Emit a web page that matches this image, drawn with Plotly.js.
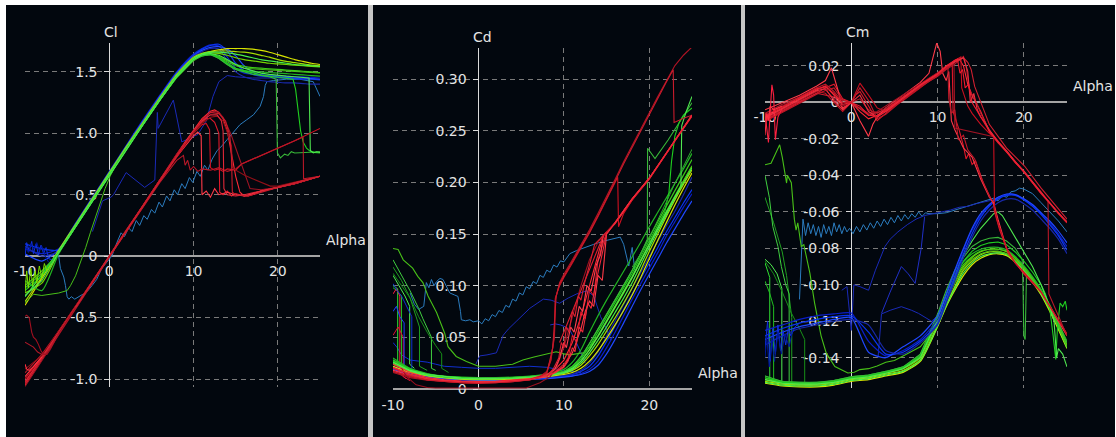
<!DOCTYPE html>
<html>
<head>
<meta charset="utf-8">
<script src="https://cdn.plot.ly/plotly-3.0.1.min.js"></script>
<style>
html,body{margin:0;padding:0;background:#ffffff;width:1116px;height:437px;overflow:hidden;}
#back{position:absolute;left:6px;top:5px;width:1109px;height:432px;background:#c6c6c6;}
.pnl{position:absolute;top:5px;height:432px;}
#p1{left:6px;width:362px;}
#p2{left:373px;width:368px;}
#p3{left:745px;width:370px;}
</style>
</head>
<body>
<div id="back"></div>
<div id="p1" class="pnl"></div>
<div id="p2" class="pnl"></div>
<div id="p3" class="pnl"></div>
<script>
// ---------------- shared ----------------
const alphaGrid = [-10,-8,-6,-4,-2,0,2,4,6,8,10,11,12,13,14,15,16,17,18,19,20,21,22,23,24,25];
const xTicks = [-10,0,10,20];
const xTickText = ['-10','0','10','20'];
const greenColors = ['#d8e400','#a6de00','#74d400','#3ccc18','#22b422','#48f048'];
const blueColors = ['#0a1ec8','#0a34f0','#2048ff','#1828a8'];

// ---------------- Cl panel ----------------
const clTicks = [-1.0,-0.5,0,0.5,1.0,1.5];
const clTickText = ['-1.0','-0.5','0','0.5','1.0','1.5'];
const clGreen = [
 [-0.40,-0.18,0.04,0.25,0.46,0.67,0.88,1.08,1.28,1.47,1.61,1.645,1.665,1.68,1.69,1.69,1.69,1.685,1.675,1.66,1.64,1.62,1.60,1.585,1.57,1.56],
 [-0.37,-0.17,0.05,0.26,0.47,0.68,0.89,1.09,1.29,1.48,1.62,1.65,1.665,1.67,1.67,1.665,1.66,1.65,1.635,1.62,1.60,1.585,1.575,1.565,1.555,1.55],
 [-0.30,-0.22,0.03,0.25,0.46,0.67,0.88,1.08,1.28,1.47,1.61,1.64,1.655,1.65,1.635,1.615,1.60,1.59,1.58,1.57,1.565,1.56,1.555,1.55,1.545,1.54],
 [-0.24,-0.12,0.03,0.24,0.45,0.66,0.87,1.07,1.27,1.46,1.60,1.635,1.645,1.625,1.59,1.56,1.545,1.535,1.53,1.525,1.52,1.515,1.51,1.505,1.50,1.495],
 [-0.20,-0.28,0.02,0.24,0.45,0.66,0.87,1.07,1.27,1.46,1.60,1.63,1.64,1.61,1.56,1.52,1.51,1.50,1.50,1.495,1.49,1.485,1.48,1.475,1.47,1.465],
 [-0.33,-0.15,0.04,0.25,0.46,0.67,0.88,1.08,1.28,1.47,1.61,1.645,1.66,1.66,1.655,1.645,1.63,1.615,1.60,1.59,1.58,1.57,1.56,1.555,1.55,1.545]
];
const clBlue = [
 [0.06,0.02,0.06,0.27,0.48,0.69,0.90,1.11,1.31,1.50,1.645,1.69,1.72,1.71,1.62,1.53,1.49,1.48,1.475,1.47,1.47,1.465,1.46,1.46,1.455,1.45],
 [0.10,0.06,0.05,0.26,0.47,0.68,0.89,1.10,1.30,1.49,1.635,1.685,1.715,1.725,1.67,1.57,1.51,1.48,1.465,1.46,1.455,1.45,1.445,1.44,1.44,1.435],
 [0.02,-0.04,0.05,0.26,0.47,0.68,0.89,1.10,1.30,1.49,1.63,1.675,1.70,1.705,1.685,1.63,1.55,1.50,1.475,1.465,1.46,1.455,1.45,1.45,1.445,1.44],
 [0.08,0.00,0.04,0.25,0.46,0.67,0.88,1.09,1.29,1.48,1.625,1.665,1.69,1.685,1.59,1.50,1.46,1.44,1.43,1.42,1.415,1.41,1.41,1.405,1.40,1.40]
];
const clGreenNeg = [[-10,-0.38],[-9,-0.31],[-8,-0.32],[-7,-0.31],[-6,-0.30],[-5,-0.28],[-4.6,-0.24],[-4,-0.16],[-3.4,-0.05],[-2.8,0.07],[-2.25,0.19],[-1.6,0.32],[-1.07,0.43],[-0.5,0.55],[0.1,0.65],[1,0.77],[2,0.87],[4,1.07],[6,1.27],[8,1.45],[10,1.59],[11,1.63],[12,1.64],[13,1.62],[14,1.58],[15,1.55],[16,1.53],[18,1.52],[20,1.51],[22,1.50],[25,1.49]];
const clGreenDrop20 = [[-10,-0.26],[-8,-0.14],[-6,0.03],[-4,0.24],[-2,0.45],[0,0.66],[2,0.87],[4,1.07],[6,1.27],[8,1.46],[10,1.60],[11,1.63],[12,1.64],[13,1.61],[14,1.56],[15,1.52],[16,1.50],[17,1.48],[18,1.47],[19,1.46],[19.8,1.44],[19.95,0.84],[20.3,0.80],[20.8,0.83],[21.2,0.82],[21.6,0.85],[22,0.84],[23,0.845],[24,0.85],[25,0.85]];
const clGreenDrop23 = [[-10,-0.28],[-8,-0.16],[-6,0.03],[-4,0.24],[-2,0.45],[0,0.66],[2,0.87],[4,1.07],[6,1.27],[8,1.46],[10,1.60],[11,1.635],[12,1.645],[13,1.62],[14,1.57],[15,1.53],[16,1.51],[17,1.49],[18,1.475],[19,1.465],[20,1.455],[21,1.45],[21.8,1.44],[22.1,1.36],[22.4,1.16],[22.7,1.02],[23.0,0.93],[23.4,0.88],[23.8,0.855],[24.3,0.845],[25,0.84]];
const clGreenDrop24 = [[-10,-0.32],[-8,-0.20],[-6,0.03],[-4,0.24],[-2,0.45],[0,0.66],[2,0.87],[4,1.07],[6,1.27],[8,1.46],[10,1.60],[11,1.64],[12,1.65],[13,1.635],[14,1.60],[15,1.56],[16,1.53],[17,1.51],[18,1.49],[19,1.48],[20,1.47],[21,1.465],[22,1.46],[23,1.455],[23.7,1.45],[23.85,0.86],[24.2,0.84],[24.6,0.85],[25,0.845]];
const clGreenNoise = [[-10,-0.30],[-9.8,-0.12],[-9.6,-0.26],[-9.3,-0.10],[-9.1,-0.24],[-8.8,-0.12],[-8.6,-0.22],[-8.3,-0.08],[-8.0,-0.18],[-7.7,-0.06],[-7.4,-0.12],[-7.0,-0.07]];
const clBlueNoise1 = [[-10,0.00],[-9.8,0.11],[-9.5,0.04],[-9.2,0.12],[-9.0,0.02],[-8.7,0.10],[-8.4,0.01],[-8.1,0.09],[-7.8,0.02],[-7.5,0.07],[-7.2,-0.02],[-6.8,-0.03],[-6.3,0.01]];
const clBlueNoise2 = [[-10,0.08],[-9.6,0.03],[-9.3,0.10],[-9,0.06],[-8.6,0.11],[-8.3,0.04],[-8,0.08],[-7.6,0.0],[-7.2,-0.05]];
const clLightBlue = [[-6.2,0.04],[-6.0,0.0],[-5.8,-0.10],[-5.4,-0.17],[-5.2,-0.24],[-5.0,-0.33],[-4.8,-0.35],[-4.5,-0.33],[-4.1,-0.35],[-3.45,-0.32],[-2.65,-0.29],[-2.05,-0.24],[-1.5,-0.19],[-0.9,-0.10],[-0.3,-0.05],[0.3,0.0],[0.9,0.11],[1.4,0.19],[1.8,0.16],[2.3,0.23],[2.7,0.20],[3.2,0.29],[3.6,0.25],[4.1,0.33],[4.5,0.30],[5.0,0.38],[5.4,0.35],[5.9,0.44],[6.3,0.40],[6.8,0.49],[7.2,0.45],[7.7,0.54],[8.1,0.50],[8.6,0.59],[9.0,0.55],[9.5,0.64],[9.9,0.60],[10.4,0.69],[10.8,0.65],[11.3,0.74],[11.7,0.70],[12.2,0.79],[12.8,0.86],[13.4,0.90],[14,0.95],[14.7,1.01],[15.5,1.07],[16.3,1.11],[17.1,1.15],[17.9,1.22],[18.3,1.30],[18.5,1.39],[18.7,1.42],[19.5,1.43],[21,1.44],[22.6,1.44],[24.2,1.42],[25,1.30]];
const clDarkBlue = [[-2.0,0.20],[-1.5,0.30],[-0.8,0.45],[0.2,0.48],[0.5,0.50],[2.0,0.68],[4.2,0.56],[5.4,0.62],[5.6,1.05],[5.7,1.17],[5.8,1.04],[7.6,1.27],[8.6,0.93],[9.6,0.96],[10.5,0.99],[11.5,1.10],[12.3,1.30],[13.0,1.42],[14.0,1.47],[15,1.46],[17,1.45],[20,1.45],[25,1.44]];
const clRed = [
 [[-10,-1.05],[-8,-0.84],[-6,-0.63],[-4,-0.42],[-2,-0.21],[0,0],[2,0.21],[4,0.41],[6,0.62],[8,0.83],[9,0.93],[10,1.03],[11,1.12],[12,1.18],[12.5,1.19],[13,1.17],[13.5,1.12],[14,1.02],[14.5,0.85],[15,0.65],[15.5,0.52],[16,0.49],[16.5,0.49],[18,0.53],[20,0.56],[22,0.59],[25,0.65]],
 [[-10,-1.02],[-8,-0.83],[-6,-0.62],[-4,-0.42],[-2,-0.21],[0,0],[2,0.20],[4,0.41],[6,0.61],[8,0.82],[9,0.92],[10,1.01],[11,1.09],[11.5,1.12],[12,1.12],[12.5,1.09],[13,1.0],[13.1,0.52],[13.5,0.50],[14,0.53],[14.5,0.49],[15,0.51],[16,0.49],[17,0.50],[18,0.53],[20,0.56],[22,0.59],[25,0.65]],
 [[-10,-0.98],[-8,-0.82],[-6,-0.62],[-4,-0.41],[-2,-0.20],[0,0.01],[2,0.21],[4,0.41],[6,0.62],[8,0.81],[9,0.90],[10,0.98],[10.5,1.01],[10.9,0.98],[11.0,0.50],[11.5,0.53],[12,0.48],[12.5,0.55],[13,0.50],[14,0.52],[15,0.50],[16,0.49],[17,0.51],[18,0.53],[20,0.56],[22,0.59],[25,0.65]],
 [[-10,-1.0],[-8,-0.82],[-6,-0.61],[-4,-0.41],[-2,-0.20],[0,0],[2,0.20],[4,0.40],[6,0.61],[8,0.81],[9,0.91],[10,1.0],[11,1.07],[11.5,1.08],[11.9,1.03],[12.0,0.72],[12.5,0.70],[13,0.71],[13.5,0.69],[14,0.71],[15,0.70],[15.7,0.75],[16.7,0.78],[18,0.82],[20,0.88],[22,0.94],[25,1.04]],
 [[-10,-1.06],[-8,-0.85],[-6,-0.64],[-4,-0.43],[-2,-0.22],[0,-0.01],[2,0.20],[4,0.41],[6,0.62],[8,0.83],[10,1.01],[11,1.10],[12,1.17],[12.5,1.18],[13,1.17],[13.5,1.13],[14,1.06],[14.5,0.98],[15,0.88],[15.5,0.78],[16,0.68],[16.7,0.55],[18,0.54],[20,0.56],[22,0.59],[25,0.65]],
 [[-10,-0.95],[-8,-0.80],[-6,-0.61],[-4,-0.41],[-2,-0.21],[0,0],[2,0.20],[4,0.40],[6,0.60],[8,0.78],[8.8,0.82],[9.0,0.74],[9.3,0.78],[9.6,0.70],[10,0.73],[10.5,0.69],[11,0.71],[12,0.70],[13,0.72],[14,0.69],[15,0.71],[15.7,0.75],[16.7,0.78],[18,0.82],[20,0.88],[22,0.94],[23,0.97],[23.05,0.63],[24,0.64],[25,0.65]],
 [[-10,-0.92],[-8,-0.81],[-6,-0.61],[-4,-0.41],[-2,-0.20],[0,0],[2,0.21],[4,0.41],[6,0.61],[8,0.82],[10,1.0],[11,1.08],[12,1.13],[12.8,1.14],[13.5,1.10],[14,1.01],[14.5,0.90],[14.6,0.72],[15,0.70],[16,0.66],[17,0.63],[18,0.60],[19.1,0.57],[20,0.57],[22,0.60],[25,0.65]],
 [[-10,-1.03],[-8,-0.83],[-6,-0.62],[-4,-0.415],[-2,-0.205],[0,0],[2,0.205],[4,0.41],[6,0.615],[8,0.82],[10,1.02],[11,1.10],[12,1.15],[12.8,1.15],[13.3,1.10],[13.5,1.02],[13.6,0.55],[14,0.50],[15,0.49],[16,0.50],[18,0.53],[20,0.56],[25,0.65]],
 [[-10,-1.04],[-8,-0.84],[-6,-0.63],[-4,-0.42],[-2,-0.21],[0,0],[2,0.21],[4,0.41],[6,0.62],[8,0.82],[10,1.02],[11,1.11],[12,1.17],[13,1.16],[13.8,1.10],[14.3,0.98],[14.5,0.80],[14.6,0.52],[15,0.50],[16.5,0.49],[20,0.56],[25,0.65]],
 [[-10,-0.49],[-9.8,-0.48],[-9.5,-0.50],[-9.2,-0.62],[-9,-0.66],[-8.7,-0.68],[-8.4,-0.72],[-8.1,-0.77],[-7.8,-0.80],[-7.4,-0.80],[-7,-0.76],[-6,-0.63],[-4,-0.42]],
 [[-10,-0.70],[-9.5,-0.72],[-9,-0.74],[-8.5,-0.78],[-8,-0.80],[-7.5,-0.79],[-7,-0.75],[-6,-0.63]],
 [[-10,-0.88],[-9.8,-0.92],[-9.5,-0.93],[-9,-0.90],[-8,-0.82]]
];
const redColors = ['#ff2a35','#e0182a','#ff3a48','#d01020','#a01424','#b81828','#901018','#e02838','#c81c2c','#a01020','#b01828','#ff3040'];

// ---------------- Cd panel ----------------
const cdTicks = [0,0.05,0.10,0.15,0.20,0.25,0.30];
const cdTickText = ['0','0.05','0.10','0.15','0.20','0.25','0.30'];
const cdGreen = [
 [0.022,0.016,0.013,0.011,0.0095,0.009,0.009,0.0095,0.0105,0.012,0.014,0.016,0.020,0.027,0.037,0.049,0.062,0.076,0.091,0.108,0.126,0.144,0.161,0.178,0.194,0.209],
 [0.024,0.017,0.013,0.011,0.010,0.0095,0.0095,0.010,0.011,0.0125,0.015,0.018,0.023,0.032,0.043,0.056,0.069,0.083,0.098,0.115,0.133,0.150,0.167,0.183,0.198,0.212],
 [0.026,0.018,0.014,0.012,0.0105,0.010,0.010,0.0105,0.0115,0.013,0.016,0.020,0.027,0.038,0.051,0.065,0.079,0.093,0.108,0.124,0.140,0.156,0.171,0.186,0.201,0.215],
 [0.028,0.019,0.0145,0.012,0.011,0.0105,0.0105,0.011,0.012,0.014,0.017,0.022,0.031,0.044,0.058,0.072,0.086,0.100,0.115,0.131,0.147,0.162,0.177,0.192,0.207,0.222],
 [0.030,0.020,0.015,0.0125,0.0115,0.011,0.011,0.0115,0.0125,0.0145,0.019,0.026,0.038,0.055,0.071,0.086,0.100,0.114,0.128,0.142,0.157,0.171,0.185,0.199,0.213,0.228],
 [0.025,0.0175,0.0135,0.0115,0.010,0.0098,0.0098,0.0103,0.0113,0.013,0.0155,0.019,0.025,0.035,0.047,0.060,0.074,0.088,0.103,0.120,0.137,0.153,0.169,0.185,0.200,0.214]
];
const cdBlue = [
 [0.020,0.015,0.012,0.010,0.009,0.0085,0.0085,0.009,0.0095,0.0105,0.012,0.013,0.015,0.019,0.027,0.040,0.055,0.071,0.087,0.102,0.117,0.132,0.148,0.162,0.176,0.189],
 [0.022,0.016,0.0125,0.0105,0.0095,0.009,0.009,0.0095,0.010,0.011,0.0125,0.014,0.017,0.022,0.032,0.046,0.061,0.077,0.092,0.107,0.122,0.137,0.152,0.166,0.180,0.193],
 [0.019,0.014,0.0115,0.0098,0.0088,0.0083,0.0083,0.0088,0.0093,0.010,0.0115,0.0125,0.014,0.017,0.023,0.034,0.048,0.064,0.080,0.096,0.111,0.126,0.141,0.155,0.169,0.182],
 [0.024,0.017,0.013,0.011,0.010,0.0095,0.0095,0.010,0.0105,0.0115,0.013,0.0145,0.018,0.025,0.036,0.051,0.066,0.082,0.098,0.113,0.128,0.143,0.158,0.172,0.188,0.205]
];
const cdGreenNeg = [[-10,0.136],[-9.4,0.135],[-8.8,0.125],[-7.7,0.117],[-7.1,0.109],[-6.5,0.103],[-5.9,0.090],[-4.9,0.074],[-3.95,0.054],[-3.56,0.041],[-2.6,0.0315],[-1.4,0.0267],[0,0.022],[2,0.022],[4,0.024],[5.2,0.028],[6.5,0.031],[8.4,0.035],[9.1,0.036],[10,0.034],[10.7,0.033],[12.3,0.035],[13,0.040],[14,0.052],[15,0.066],[16,0.080],[17,0.094],[18,0.109],[19,0.125],[20,0.141],[21,0.157],[22,0.172],[23,0.187],[24,0.202],[25,0.216]];
const cdGreenDrop20 = [[-10,0.028],[-8,0.019],[-6,0.0145],[-4,0.012],[-2,0.011],[0,0.0105],[2,0.0105],[4,0.011],[6,0.012],[8,0.014],[10,0.017],[11,0.022],[12,0.031],[13,0.044],[14,0.058],[15,0.072],[16,0.086],[17,0.100],[18,0.115],[19,0.131],[19.77,0.145],[19.8,0.233],[20.67,0.223],[22.2,0.241],[23.2,0.254],[24.4,0.270],[25,0.277]];
const cdGreenDrop23 = [[-10,0.027],[-8,0.019],[-6,0.014],[-4,0.012],[-2,0.011],[0,0.0102],[2,0.0102],[4,0.0108],[6,0.0118],[8,0.0135],[10,0.0165],[11,0.021],[12,0.029],[13,0.041],[14,0.055],[15,0.069],[16,0.083],[17,0.097],[18,0.112],[19,0.128],[20,0.144],[21,0.159],[21.8,0.171],[22.3,0.19],[22.6,0.22],[23.0,0.245],[23.5,0.258],[24,0.265],[25,0.272]];
const cdGreenDrop24 = [[-10,0.026],[-8,0.018],[-6,0.014],[-4,0.012],[-2,0.0105],[0,0.010],[2,0.010],[4,0.0105],[6,0.0115],[8,0.013],[10,0.016],[11,0.020],[12,0.027],[13,0.038],[14,0.051],[15,0.065],[16,0.079],[17,0.093],[18,0.108],[19,0.124],[20,0.140],[21,0.156],[22,0.171],[23,0.186],[23.7,0.196],[23.8,0.255],[24.3,0.268],[25,0.283]];
const cdGreenHigh = [[18,0.118],[19,0.131],[20,0.146],[21,0.163],[22,0.181],[23,0.199],[24,0.216],[25,0.232]];
const cdSpikes = [
 [[-10,0.100],[-9.7,0.098],[-9.45,0.097],[-9.45,0.025],[-9,0.022]],
 [[-10,0.098],[-9.5,0.095],[-9.0,0.090],[-9.0,0.024],[-8.5,0.021]],
 [[-10,0.110],[-9.3,0.100],[-8.6,0.090],[-8.05,0.080],[-8.05,0.024],[-7.5,0.020]],
 [[-10,0.118],[-9,0.105],[-8,0.088],[-7.5,0.075],[-6.9,0.060],[-6.9,0.022],[-6,0.018]],
 [[-10,0.125],[-9,0.110],[-8,0.095],[-7,0.078],[-6.5,0.068],[-5.5,0.050],[-5.5,0.020],[-5,0.018]],
 [[-10,0.112],[-9,0.100],[-8,0.088],[-7,0.070],[-6,0.055],[-5,0.042],[-4.3,0.034],[-4.3,0.020],[-3.5,0.016]],
 [[-10,0.092],[-9.6,0.097],[-9.2,0.090],[-9.2,0.015],[-8.5,0.010]],
 [[-10,0.052],[-9.4,0.060],[-8.8,0.050],[-8.8,0.012],[-8,0.008]],
 [[-10,0.102],[-9.5,0.095],[-9,0.090],[-8.4,0.080],[-7.8,0.070],[-7.8,0.018],[-7,0.015]],
 [[-10,0.075],[-9.6,0.08],[-9.2,0.07],[-8.7,0.064],[-8.7,0.02],[-8,0.017]]
];
const cdSpikeColors = ['#30e030','#20c020','#50f050','#20a020','#40d040','#189018','#ff2040','#e01030','#1030d0','#2040ff'];
const cdRed = [
 [[-10,0.024],[-8,0.016],[-6,0.011],[-4,0.009],[-2,0.0078],[0,0.0072],[2,0.0075],[4,0.0085],[6,0.010],[8,0.014],[9,0.019],[10,0.028],[11,0.045],[12,0.07],[13,0.10],[14,0.132],[14.6,0.148],[16,0.16],[18,0.183],[20,0.203],[22,0.228],[24,0.252],[25,0.265]],
 [[-10,0.020],[-8,0.014],[-6,0.010],[-4,0.008],[-2,0.007],[0,0.0065],[2,0.007],[4,0.008],[6,0.0095],[8,0.013],[9,0.017],[10,0.024],[10.5,0.030],[11,0.052],[11.5,0.045],[12,0.075],[12.5,0.068],[13,0.096],[13.5,0.09],[14,0.125],[15,0.152],[16,0.161],[18,0.184],[20,0.204],[22,0.228],[25,0.264]],
 [[-10,0.018],[-8,0.013],[-6,0.0095],[-4,0.0078],[-2,0.0068],[0,0.0062],[2,0.0066],[4,0.0075],[6,0.009],[8,0.012],[9,0.016],[10,0.022],[11,0.035],[12,0.058],[12.5,0.075],[13,0.085],[13.5,0.08],[14,0.11],[14.5,0.105],[15,0.15],[16,0.161],[18,0.184],[20,0.204],[22,0.228],[25,0.265]],
 [[-10,0.017],[-8,0.012],[-6,0.009],[-4,0.0072],[-2,0.0062],[0,0.0058],[2,0.0062],[4,0.0072],[6,0.009],[7,0.011],[8,0.016],[8.5,0.028],[8.9,0.054],[9.0,0.088],[9.5,0.100],[10,0.108],[11,0.122],[12,0.136],[13,0.151],[14,0.167],[15,0.183],[16,0.200],[16.3,0.205],[16.4,0.157],[17,0.170],[18,0.183],[20,0.204],[22,0.228],[25,0.265]],
 [[-10,0.016],[-8,0.011],[-6,0.0085],[-4,0.007],[-2,0.006],[0,0.0055],[2,0.006],[4,0.007],[6,0.0088],[7,0.011],[8,0.017],[8.5,0.03],[8.9,0.05],[9.0,0.086],[9.5,0.103],[10,0.111],[11,0.125],[12,0.139],[13,0.154],[14,0.170],[15,0.186],[16,0.203],[17,0.220],[18,0.236],[19,0.252],[20,0.267],[21,0.283],[22,0.298],[23,0.313],[24,0.323],[25,0.331]],
 [[-10,0.017],[-6,0.0088],[-2,0.0061],[0,0.0057],[2,0.0061],[4,0.0071],[6,0.0089],[8,0.015],[8.7,0.04],[9.1,0.09],[9.5,0.102],[10,0.109],[11,0.123],[12,0.137],[13,0.152],[14,0.168],[15,0.184],[16,0.201],[17,0.218],[18,0.234],[19,0.25],[20,0.266],[21,0.282],[22,0.297],[22.8,0.309],[22.9,0.258],[23.5,0.26],[24,0.262],[25,0.265]],
 [[-9.0,0.020],[-8.4,0.012],[-7.3,0.004],[-6,0.0015],[-5,0.001],[-3,0.001],[0,0.001],[3,0.001],[5.6,0.001],[7.2,0.006],[8.4,0.012],[9.1,0.02],[10,0.04],[11,0.07],[12,0.10],[13,0.125],[14,0.142],[15,0.152],[16,0.161]],
 [[8,0.013],[9,0.02],[9.5,0.03],[10,0.045],[10.3,0.04],[10.8,0.06],[11.2,0.055],[11.8,0.08],[12.2,0.075],[12.7,0.10],[13.2,0.095],[13.8,0.12],[14.3,0.13],[14.6,0.148]],
 [[9.5,0.045],[10,0.055],[11,0.075],[12,0.095],[13,0.115],[14,0.135],[14.6,0.148]],
 [[-10,0.021],[-8,0.0145],[-6,0.0102],[-4,0.0082],[-2,0.0072],[0,0.0066],[2,0.0069],[4,0.0078],[6,0.0092],[8,0.0125],[9,0.016],[10,0.021],[10.5,0.027],[11,0.04],[11.3,0.036],[11.8,0.06],[12.2,0.055],[12.8,0.083],[13.2,0.078],[13.8,0.105],[14.4,0.128],[15,0.15],[16,0.161],[18,0.184],[20,0.204],[22,0.228],[25,0.265]],
 [[8,0.012],[8.8,0.02],[9.4,0.03],[9.7,0.045],[10,0.04],[10.3,0.06],[10.6,0.055],[11,0.075],[11.3,0.07],[11.7,0.09],[12,0.086],[12.5,0.105],[13,0.12],[13.6,0.14],[14.2,0.145],[15,0.152]]
];
const cdRedColors = ['#ff2a35','#e0182a','#ff3a48','#d01020','#b01424','#c81c2c','#9a1020','#ff4050','#e02030','#f02a3a','#d82030'];
const cdLightBlue = [[-8,0.093],[-7.5,0.082],[-7,0.077],[-6.4,0.080],[-6.1,0.103],[-5.8,0.098],[-5.5,0.106],[-5.2,0.100],[-4.9,0.104],[-4.5,0.107],[-4.15,0.106],[-3.7,0.099],[-3.36,0.093],[-2.8,0.091],[-2.4,0.0896],[-2.1,0.075],[-2.0,0.067],[-1.5,0.066],[-1,0.067],[-0.6,0.065],[0,0.066],[0.4,0.063],[0.8,0.068],[1.2,0.066],[1.6,0.072],[2.0,0.070],[2.4,0.076],[2.8,0.074],[3.2,0.081],[3.6,0.079],[4.0,0.087],[4.4,0.085],[4.8,0.093],[5.2,0.091],[5.6,0.099],[6.0,0.097],[6.4,0.104],[6.8,0.102],[7.2,0.110],[7.6,0.108],[8.0,0.115],[8.4,0.113],[8.8,0.120],[9.2,0.118],[9.6,0.124],[10,0.123],[10.7,0.131],[11.5,0.134],[12.7,0.138],[13.5,0.140],[14.6,0.143],[15.5,0.145],[16.6,0.147],[17.0,0.140],[17.3,0.130],[17.6,0.119],[18,0.137],[18.3,0.115]];
const cdDarkBlue = [[-0.3,0.024],[0.15,0.032],[1,0.033],[2.1,0.035],[2.9,0.052],[3.5,0.058],[4.5,0.066],[6,0.078],[7.6,0.087],[8.5,0.086],[9.5,0.083],[10.5,0.088],[11.5,0.092],[12.7,0.095],[13.5,0.09],[14.3,0.07],[15,0.058],[15.5,0.047]];
const cdDarkBlueArc = [[8.4,0.062],[9,0.063],[9.6,0.062],[10.2,0.06],[10.7,0.057],[11.3,0.048],[12,0.035],[12.5,0.025]];
const cdBlueLow = [[-10,0.045],[-9.5,0.04],[-9,0.033],[-8,0.028],[-7,0.027],[-6,0.026],[-5,0.024],[-4,0.022],[-2,0.021],[0,0.02],[2,0.02],[4,0.021],[6,0.022],[8,0.021],[10,0.018],[12,0.016]];

// ---------------- Cm panel ----------------
const cmTicks = [-0.14,-0.12,-0.10,-0.08,-0.06,-0.04,-0.02,0,0.02];
const cmTickText = ['-0.14','-0.12','-0.10','-0.08','-0.06','-0.04','-0.02','0','0.02'];
const cmGreen = [
 [-0.154,-0.1555,-0.156,-0.156,-0.155,-0.153,-0.152,-0.150,-0.148,-0.142,-0.123,-0.112,-0.103,-0.095,-0.089,-0.0855,-0.0835,-0.083,-0.084,-0.0875,-0.0925,-0.0985,-0.1055,-0.1145,-0.1245,-0.135],
 [-0.153,-0.1545,-0.155,-0.155,-0.154,-0.152,-0.151,-0.149,-0.147,-0.141,-0.122,-0.111,-0.101,-0.092,-0.087,-0.0835,-0.082,-0.082,-0.083,-0.0865,-0.091,-0.097,-0.104,-0.113,-0.123,-0.134],
 [-0.152,-0.154,-0.1545,-0.1545,-0.1535,-0.1515,-0.1505,-0.1485,-0.146,-0.140,-0.120,-0.108,-0.098,-0.090,-0.085,-0.0818,-0.0805,-0.0805,-0.0818,-0.0855,-0.0905,-0.0965,-0.1035,-0.1125,-0.1225,-0.133],
 [-0.151,-0.1535,-0.154,-0.154,-0.153,-0.151,-0.150,-0.148,-0.1455,-0.139,-0.119,-0.107,-0.097,-0.089,-0.0845,-0.0815,-0.0805,-0.0805,-0.0815,-0.085,-0.090,-0.096,-0.103,-0.1115,-0.1215,-0.1315],
 [-0.150,-0.153,-0.1535,-0.1535,-0.1525,-0.1505,-0.1495,-0.1475,-0.145,-0.138,-0.1175,-0.1055,-0.0955,-0.0875,-0.083,-0.0805,-0.0795,-0.0795,-0.0808,-0.0845,-0.0895,-0.0955,-0.1025,-0.111,-0.121,-0.131],
 [-0.1535,-0.155,-0.1555,-0.1555,-0.1545,-0.1525,-0.1515,-0.1495,-0.1475,-0.1415,-0.1225,-0.1115,-0.102,-0.0935,-0.088,-0.0845,-0.083,-0.0825,-0.0835,-0.087,-0.092,-0.0975,-0.105,-0.1135,-0.1235,-0.1345]
];
const cmBlue = [
 [-0.125,-0.122,-0.119,-0.117,-0.116,-0.1155,-0.131,-0.139,-0.136,-0.130,-0.119,-0.107,-0.094,-0.081,-0.070,-0.062,-0.0565,-0.0525,-0.0505,-0.0505,-0.053,-0.0565,-0.061,-0.066,-0.072,-0.079],
 [-0.128,-0.124,-0.121,-0.119,-0.1175,-0.117,-0.126,-0.138,-0.137,-0.131,-0.121,-0.109,-0.096,-0.083,-0.072,-0.063,-0.057,-0.053,-0.051,-0.051,-0.0535,-0.057,-0.0615,-0.067,-0.073,-0.081],
 [-0.130,-0.126,-0.123,-0.121,-0.119,-0.118,-0.137,-0.140,-0.134,-0.128,-0.117,-0.105,-0.092,-0.080,-0.069,-0.061,-0.056,-0.052,-0.0502,-0.0505,-0.0528,-0.056,-0.0605,-0.065,-0.0705,-0.077],
 [-0.133,-0.128,-0.124,-0.122,-0.120,-0.119,-0.122,-0.136,-0.138,-0.132,-0.122,-0.110,-0.098,-0.085,-0.074,-0.065,-0.059,-0.055,-0.053,-0.053,-0.0555,-0.059,-0.064,-0.069,-0.075,-0.083]
];
const cmGreenNeg = [[-10.05,-0.0342],[-9.3,-0.0333],[-8.3,-0.0232],[-8.0,-0.030],[-7.5,-0.0442],[-7.4,-0.040],[-6.95,-0.044],[-6.6,-0.064],[-6.4,-0.070],[-6.2,-0.066],[-5.8,-0.079],[-5.5,-0.078],[-4.8,-0.0936],[-4.25,-0.110],[-3.5,-0.128],[-2.9,-0.1375],[-1.9,-0.1448],[-0.4,-0.1484],[0.35,-0.148],[1,-0.1465],[2,-0.146],[3,-0.1445],[4,-0.1425],[5,-0.1415],[6,-0.139],[7,-0.1365],[8,-0.134],[9,-0.128],[10,-0.12],[11,-0.109],[12,-0.099],[13,-0.091],[14,-0.086],[15,-0.083],[16,-0.0815],[17,-0.0815],[18,-0.083],[19,-0.0865],[20,-0.091],[21,-0.097],[22,-0.104],[23,-0.113],[24,-0.123],[25,-0.134]];
const cmGreenDrop20 = [[-10,-0.150],[-8,-0.153],[-6,-0.1535],[-4,-0.1535],[-2,-0.1525],[0,-0.1505],[2,-0.1495],[4,-0.1475],[6,-0.145],[8,-0.138],[10,-0.116],[11,-0.103],[12,-0.092],[13,-0.085],[14,-0.079],[15,-0.076],[16,-0.0745],[17,-0.074],[18,-0.076],[19,-0.080],[19.8,-0.086],[19.9,-0.10],[20.0,-0.128],[20.15,-0.130],[20.3,-0.095],[21,-0.098],[22,-0.104],[23,-0.112],[24,-0.121],[25,-0.132]];
const cmGreenDrop23 = [[-10,-0.151],[-8,-0.1535],[-6,-0.154],[-4,-0.154],[-2,-0.153],[0,-0.151],[2,-0.150],[4,-0.148],[6,-0.1455],[8,-0.139],[10,-0.118],[11,-0.106],[12,-0.095],[13,-0.087],[14,-0.0815],[15,-0.0785],[16,-0.077],[17,-0.0765],[18,-0.078],[19,-0.082],[20,-0.087],[21,-0.093],[22,-0.100],[22.5,-0.105],[23.0,-0.113],[23.4,-0.128],[23.7,-0.141],[23.9,-0.123],[24.2,-0.110],[24.5,-0.112],[24.8,-0.109],[25,-0.114]];
const cmGreenDrop24 = [[-10,-0.152],[-8,-0.154],[-6,-0.1545],[-4,-0.1545],[-2,-0.1535],[0,-0.1515],[2,-0.1505],[4,-0.1485],[6,-0.146],[8,-0.140],[10,-0.119],[11,-0.106],[12,-0.094],[13,-0.084],[14,-0.076],[15,-0.069],[16,-0.064],[16.5,-0.061],[17,-0.060],[17.5,-0.062],[18,-0.066],[19,-0.074],[20,-0.082],[21,-0.090],[22,-0.100],[23,-0.112],[23.5,-0.120],[23.8,-0.140],[24,-0.135],[24.5,-0.138],[25,-0.145]];
const cmSpikes = [
 [[-10,-0.088],[-9.7,-0.092],[-9.45,-0.096],[-9.45,-0.152],[-9,-0.153]],
 [[-10,-0.098],[-9.5,-0.104],[-9.0,-0.112],[-9.0,-0.153],[-8.5,-0.154]],
 [[-10,-0.086],[-9.3,-0.089],[-8.6,-0.094],[-8.05,-0.102],[-8.05,-0.153],[-7.5,-0.154]],
 [[-10,-0.052],[-9,-0.066],[-8,-0.082],[-7.5,-0.095],[-6.9,-0.118],[-6.9,-0.154],[-6,-0.155]],
 [[-10,-0.040],[-9.5,-0.052],[-9.1,-0.068],[-8.5,-0.079],[-8.1,-0.090],[-7.6,-0.100],[-7.2,-0.105],[-7.2,-0.154],[-6.5,-0.155]],
 [[-10,-0.087],[-9,-0.094],[-8,-0.104],[-7,-0.115],[-6,-0.124],[-5.4,-0.130],[-5.4,-0.155],[-4.5,-0.155]]
];
const cmSpikeColors = ['#30e030','#20c020','#50f050','#20a020','#40d040','#189018'];
const cmBlueNoise1 = [[-10,-0.135],[-9.7,-0.120],[-9.4,-0.142],[-9.1,-0.124],[-8.8,-0.138],[-8.5,-0.122],[-8.2,-0.136],[-7.9,-0.125],[-7.6,-0.133],[-7.3,-0.124],[-7,-0.128],[-6.5,-0.123],[-6,-0.121]];
const cmBlueNoise2 = [[-10,-0.140],[-9.8,-0.128],[-9.5,-0.145],[-9.2,-0.130],[-8.9,-0.142],[-8.5,-0.126],[-8.1,-0.138],[-7.7,-0.127],[-7.2,-0.134],[-6.8,-0.125]];
const cmLightBlue = [[-6.0,-0.108],[-5.9,-0.095],[-5.8,-0.085],[-5.7,-0.075],[-5.6,-0.064],[-5.3,-0.073],[-5.0,-0.066],[-4.7,-0.072],[-4.4,-0.067],[-4.1,-0.073],[-3.8,-0.068],[-3.5,-0.074],[-3.2,-0.067],[-2.9,-0.072],[-2.6,-0.068],[-2.3,-0.073],[-2.0,-0.066],[-1.7,-0.071],[-1.4,-0.067],[-1.1,-0.072],[-0.8,-0.068],[-0.5,-0.071],[-0.2,-0.069],[0.2,-0.072],[0.6,-0.068],[1,-0.071],[1.4,-0.067],[1.8,-0.070],[2.2,-0.066],[2.6,-0.069],[3,-0.065],[3.4,-0.068],[3.8,-0.064],[4.2,-0.067],[4.6,-0.063],[5,-0.066],[5.4,-0.062],[5.8,-0.065],[6.2,-0.0615],[6.6,-0.064],[7,-0.061],[7.4,-0.063],[7.8,-0.060],[8.2,-0.0625],[8.6,-0.0605],[9,-0.061],[10,-0.061],[11,-0.0605],[12,-0.059],[13,-0.0575],[14,-0.056],[15,-0.0545],[16,-0.053],[16.5,-0.0525],[17,-0.054],[17.5,-0.051],[18,-0.052],[18.5,-0.049],[19,-0.0485],[19.5,-0.047],[20,-0.0475],[21,-0.050],[22,-0.055],[23,-0.060],[24,-0.065],[25,-0.071]];
const cmDarkBlue1 = [[-1.1,-0.103],[-0.5,-0.101],[0,-0.125],[0.3,-0.100],[1,-0.101],[2,-0.103],[2.8,-0.092],[3.9,-0.079],[4.5,-0.075],[5.4,-0.071],[6.5,-0.067],[7.5,-0.064],[8.5,-0.062],[9.5,-0.061],[10.5,-0.060],[11.5,-0.059],[12.5,-0.0575],[13.5,-0.057],[14.5,-0.0555],[15.5,-0.0545],[16.4,-0.0535],[17,-0.052],[18,-0.0505],[19,-0.0505],[20,-0.053],[22,-0.061],[25,-0.079]];
const cmDarkBlue2 = [[3.5,-0.1157],[4.5,-0.104],[5.8,-0.090],[6.6,-0.094],[7.4,-0.0992],[8.1,-0.080],[8.5,-0.0626]];
const cmDarkBlue3 = [[3.1,-0.140],[3.5,-0.116],[4.5,-0.114],[5.8,-0.112],[7,-0.114],[7.8,-0.1157],[9.3,-0.120],[10,-0.117],[11,-0.106]];
const cmRed = [
 [[-10,-0.008],[-8,-0.003],[-6,0.002],[-4,0.007],[-3,0.009],[-2,0.004],[-1,-0.003],[0,0.0],[1,-0.005],[2,-0.009],[3,-0.007],[4,-0.004],[6,0.003],[8,0.010],[9,0.013],[10,0.016],[11,0.020],[12,0.023],[12.5,0.024],[13,0.020],[13.5,0.010],[14,0.004],[15,-0.005],[16,-0.016],[17,-0.022],[18,-0.027],[19,-0.033],[20,-0.038],[21,-0.044],[22,-0.050],[23,-0.055],[24,-0.061],[25,-0.066]],
 [[-10,-0.010],[-8,-0.005],[-6,0.000],[-4,0.005],[-3,0.008],[-2,0.010],[-1,0.002],[0,0.0],[0.5,0.004],[1,0.006],[2,-0.002],[3,-0.010],[4,-0.006],[6,0.002],[8,0.009],[9,0.012],[10,0.015],[11,0.019],[11.7,0.021],[11.8,-0.005],[12.5,-0.015],[13.0,-0.024],[13.3,-0.031],[13.6,-0.028],[14.0,-0.034],[14.4,-0.032],[14.9,-0.039],[15.3,-0.044],[15.7,-0.048],[16.2,-0.053],[16.5,-0.056],[16.6,-0.060],[17.2,-0.070],[18.2,-0.083],[19.3,-0.090],[20,-0.094],[22,-0.104],[25,-0.127]],
 [[-10,-0.004],[-8,0.000],[-6,0.004],[-4,0.009],[-3,0.012],[-2.3,0.019],[-1.5,0.006],[-1,-0.004],[0,0.0],[1,-0.010],[2,-0.0186],[2.5,-0.012],[3,-0.008],[4,-0.003],[6,0.004],[8,0.011],[9,0.016],[9.5,0.026],[9.9,0.0326],[10.3,0.028],[10.6,0.016],[11,0.012],[11.3,0.017],[11.6,-0.010],[12,-0.015],[13,-0.025],[14,-0.030],[15,-0.042],[16,-0.052],[16.5,-0.055],[17,-0.064],[18,-0.080],[19,-0.088],[20,-0.093],[22,-0.104],[25,-0.128]],
 [[-10,-0.009],[-8,-0.004],[-6,0.001],[-4,0.006],[-3,0.005],[-2,0.000],[-1,-0.005],[0,0.0],[1,0.0106],[2,0.004],[3,-0.003],[4,-0.005],[6,0.001],[8,0.008],[10,0.015],[11,0.019],[12,0.023],[12.7,0.025],[12.8,0.008],[13.5,-0.002],[14,-0.006],[15,-0.012],[16,-0.017],[16.4,-0.0187],[16.5,-0.019],[16.6,-0.058],[17,-0.066],[18,-0.080],[19,-0.088],[20,-0.093],[22,-0.104],[25,-0.127]],
 [[-10,-0.007],[-8,-0.002],[-6,0.003],[-4,0.008],[-3,0.007],[-2,0.002],[-1,-0.002],[0,0.0],[1,-0.003],[2,-0.006],[3,-0.005],[4,-0.002],[6,0.004],[8,0.010],[10,0.016],[11,0.019],[11.9,0.022],[12.0,-0.014],[13,-0.015],[14,-0.016],[15,-0.017],[16.4,-0.0187],[17,-0.022],[18,-0.027],[20,-0.038],[22,-0.050],[24,-0.061],[25,-0.066]],
 [[-10,-0.006],[-8,-0.001],[-6,0.003],[-4,0.008],[-3,0.010],[-2,0.006],[-1,0.000],[0,0.0],[1,0.002],[2,-0.004],[3,-0.006],[4,-0.003],[6,0.003],[8,0.009],[10,0.0143],[11,0.018],[12,0.021],[13,0.0252],[13.3,0.020],[13.7,0.007],[14.5,0.0],[15,-0.006],[16,-0.0155],[18,-0.027],[20,-0.038],[22,-0.049],[22.8,-0.054],[22.9,-0.105],[23.5,-0.112],[24,-0.117],[25,-0.128]],
 [[-10,-0.0095],[-6,0.0005],[-4,0.005],[-2,0.003],[0,0.0],[2,-0.007],[4,-0.004],[6,0.002],[8,0.009],[10,0.015],[12,0.022],[13,0.0245],[13.5,0.022],[13.9,0.018],[14.3,0.0088],[16,-0.012],[18,-0.025],[20.1,-0.035],[22,-0.047],[25,-0.064]],
 [[-10,-0.006],[-9.6,-0.022],[-9.4,-0.005],[-9.2,0.0097],[-9.0,0.004],[-8.8,-0.0205],[-8.5,-0.008],[-8,-0.003]],
 [[-10,-0.0085],[-8,-0.0035],[-6,0.0015],[-4,0.0065],[-3,0.0075],[-2,0.001],[-1,-0.004],[0,0],[1,0.004],[2,-0.005],[3,-0.008],[4,-0.005],[6,0.0025],[8,0.0095],[10,0.0155],[11,0.0195],[12,0.0225],[13,0.0245],[13.5,0.017],[13.8,0.0],[14.2,0.005],[14.6,-0.004],[15,-0.008],[15.5,-0.011],[16,-0.015],[17,-0.0215],[18,-0.0265],[19,-0.0325],[20,-0.0375],[22,-0.0495],[24,-0.0605],[25,-0.0655]],
 [[-10,-0.0075],[-8,-0.0025],[-6,0.0025],[-4,0.0075],[-3,0.0085],[-2,0.005],[-1,-0.001],[0,0],[1,-0.002],[2,-0.007],[3,-0.0075],[4,-0.0045],[6,0.0028],[8,0.0098],[10,0.0158],[11,0.0198],[12,0.0232],[12.3,0.0238],[12.6,0.016],[12.9,0.018],[13.2,0.008],[13.6,0.01],[14.0,0.0],[14.5,-0.004],[15.2,-0.009],[16,-0.0158],[17,-0.0218],[18,-0.0272],[20,-0.0382],[22,-0.0498],[24,-0.0608],[25,-0.0658]],
 [[-10,-0.0105],[-8,-0.0055],[-6,-0.0005],[-4,0.0045],[-3,0.0065],[-2,0.008],[-1,0.001],[0,0],[1,0.008],[2,0.001],[3,-0.009],[4,-0.0065],[6,0.0015],[8,0.0085],[10,0.0145],[11,0.0185],[11.2,0.0195],[11.3,0.002],[11.6,-0.006],[12,-0.004],[12.4,-0.0205],[13,-0.018],[13.5,-0.026],[14.3,-0.031],[15.1,-0.042],[16.06,-0.052],[16.5,-0.0545]],
 [[-10,-0.018],[-9.8,-0.006],[-9.6,-0.010],[-9.4,-0.002],[-9,-0.004],[-8,-0.002]]
];
const cmRedColors = ['#ff2a35','#e0182a','#ff3a48','#c81020','#a01424','#b81828','#d02030','#ff2040','#e83040','#f01c30','#c01828','#ff3040'];

// ---------------- helpers ----------------
const BG = '#02070e';
const FONT = '"DejaVu Sans", Verdana, sans-serif';
const TXT = '#e4e4e4';
const GRID = '#7a7a7a';

function rowTraces(rows, colors, w) {
  return rows.map((r, i) => ({type:'scatter', mode:'lines', x: alphaGrid, y: r,
    line:{color: colors[i % colors.length], width: w, shape:'spline', smoothing:0.6}, hoverinfo:'skip'}));
}
function ptsTrace(pts, color, w) {
  return {type:'scatter', mode:'lines', x: pts.map(p => p[0]), y: pts.map(p => p[1]),
    line:{color: color, width: w || 1}, hoverinfo:'skip'};
}
function listTraces(list, colors, w) {
  return list.map((p, i) => ptsTrace(p, colors[i % colors.length], w));
}

function layoutFor(o) {
  const ax = {
    showgrid:true, gridcolor:GRID, griddash:'5px,4px', gridwidth:1, zeroline:false,
    showline:true, anchor:'free', layer:'below traces', fixedrange:true,
    tickfont:{family:FONT, size:14, color:TXT}
  };
  return {
    width:o.w, height:o.h, margin:{l:o.l, r:o.r, t:o.t, b:o.b, pad:0},
    paper_bgcolor:BG, plot_bgcolor:BG, showlegend:false,
    font:{family:FONT, size:14, color:TXT},
    xaxis: Object.assign({}, ax, {range:[-10,25], tickmode:'array', tickvals:xTicks, ticktext:xTickText,
      linecolor:'#a4a4a4', linewidth:2, position:o.xpos, ticks:'', ticklabelstandoff:o.xstand}),
    yaxis: Object.assign({}, ax, {range:o.yr, tickmode:'array', tickvals:o.yt, ticktext:o.ytt,
      linecolor:'#dadada', linewidth:1, position:o.ypos, ticks:'outside', ticklen:5, tickwidth:1,
      tickcolor:'#dadada', ticklabelstandoff:4}),
    annotations:[
      {text:o.title, xref:'x', x:0, xanchor:'center', xshift:o.tshift, yref:'paper', y:1, yanchor:'bottom', yshift:1,
       showarrow:false, font:{family:FONT, size:14, color:TXT}},
      {text:'Alpha', xref:'paper', x:1, xanchor:'left', xshift:4, yref:'y', y:0, yanchor:'bottom', yshift:6,
       showarrow:false, font:{family:FONT, size:14, color:TXT}}
    ]
  };
}
const cfg = {staticPlot:true, displayModeBar:false};

// ---------------- panel 1: Cl ----------------
const t1 = [].concat(
  [ptsTrace(clLightBlue, '#2b7cbf', 1), ptsTrace(clDarkBlue, '#1a2ab8', 1)],
  rowTraces(clBlue, blueColors, 1.2),
  [ptsTrace(clBlueNoise1, '#1030e0', 1), ptsTrace(clBlueNoise2, '#0018a0', 1)],
  rowTraces(clGreen, greenColors, 1.2),
  [ptsTrace(clGreenNeg, '#48c018', 1), ptsTrace(clGreenDrop20, '#38b838', 1.1),
   ptsTrace(clGreenDrop23, '#20d020', 1.1), ptsTrace(clGreenDrop24, '#50e850', 1.1),
   ptsTrace(clGreenNoise, '#7ee000', 1)],
  listTraces(clRed, redColors, 1.1)
);
Plotly.newPlot('p1', t1, layoutFor({w:362, h:432, l:19, r:48, t:38, b:50, yr:[-1.065,1.735],
  yt:clTicks, ytt:clTickText, xpos:1.065/2.8, ypos:10/35, xstand:2, title:'Cl', tshift:2}), cfg);

// ---------------- panel 2: Cd ----------------
const t2 = [].concat(
  [ptsTrace(cdLightBlue, '#2b7cbf', 1), ptsTrace(cdDarkBlue, '#1a2ab8', 1),
   ptsTrace(cdDarkBlueArc, '#2030c8', 1), ptsTrace(cdBlueLow, '#1030d0', 1)],
  rowTraces(cdBlue, blueColors, 1.2),
  listTraces(cdSpikes, cdSpikeColors, 1),
  rowTraces(cdGreen, greenColors, 1.2),
  [ptsTrace(cdGreenNeg, '#48c018', 1.1), ptsTrace(cdGreenDrop20, '#38b838', 1.1),
   ptsTrace(cdGreenDrop23, '#20d020', 1.1), ptsTrace(cdGreenDrop24, '#50e850', 1.1),
   ptsTrace(cdGreenHigh, '#30a830', 1)],
  listTraces(cdRed, cdRedColors, 1.1)
);
Plotly.newPlot('p2', t2, layoutFor({w:368, h:432, l:20, r:49, t:43, b:48, yr:[0,0.330],
  yt:cdTicks, ytt:cdTickText, xpos:0, ypos:10/35, xstand:3, title:'Cd', tshift:4}), cfg);

// ---------------- panel 3: Cm ----------------
const t3 = [].concat(
  [ptsTrace(cmLightBlue, '#2b7cbf', 1), ptsTrace(cmDarkBlue1, '#1a2ab8', 1),
   ptsTrace(cmDarkBlue2, '#2030c8', 1), ptsTrace(cmDarkBlue3, '#1a2ab8', 1)],
  listTraces(cmSpikes, cmSpikeColors, 1),
  rowTraces(cmGreen, greenColors, 1.2),
  [ptsTrace(cmGreenNeg, '#48c018', 1.1), ptsTrace(cmGreenDrop20, '#38b838', 1.1),
   ptsTrace(cmGreenDrop23, '#20d020', 1.1), ptsTrace(cmGreenDrop24, '#50e850', 1.1)],
  rowTraces(cmBlue, blueColors, 1.2),
  [ptsTrace(cmBlueNoise1, '#1030e0', 1), ptsTrace(cmBlueNoise2, '#0018a0', 1)],
  listTraces(cmRed, cmRedColors, 1.1)
);
Plotly.newPlot('p3', t3, layoutFor({w:370, h:432, l:20, r:48, t:38, b:49, yr:[-0.1566,0.0326],
  yt:cmTicks, ytt:cmTickText, xpos:0.1566/0.1892, ypos:10/35, xstand:2, title:'Cm', tshift:6}), cfg);
</script>
</body>
</html>
